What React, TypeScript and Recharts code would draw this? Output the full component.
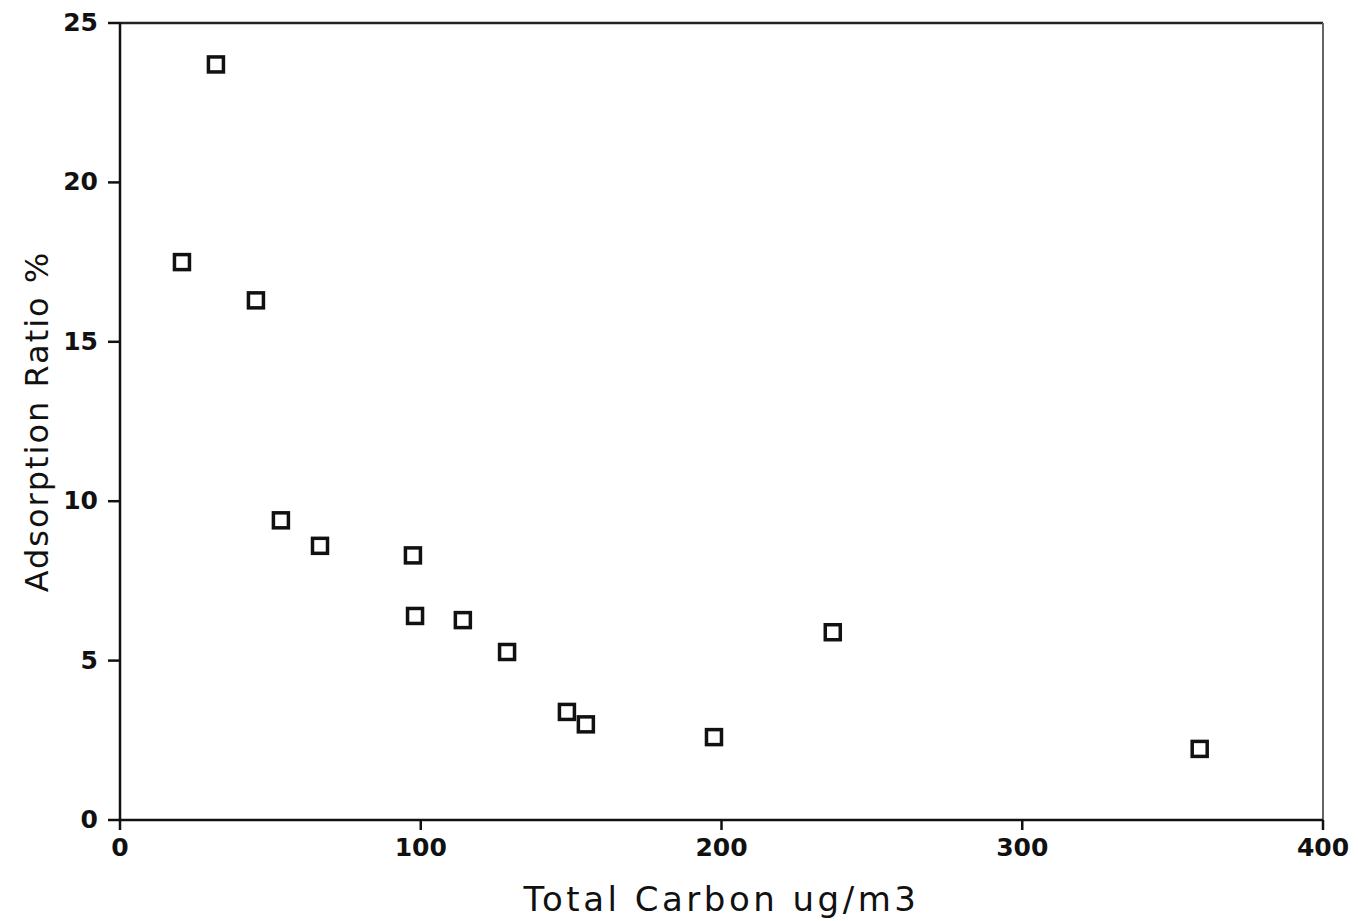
import { ScatterChart, Scatter, XAxis, YAxis, ReferenceLine, Label } from "recharts";

const totalCarbon = [20.6, 31.9, 45.2, 53.5, 66.5, 97.4, 98.1, 114, 128.7, 148.6, 154.9, 197.5, 237, 359];
const adsorptionRatio = [17.5, 23.7, 16.3, 9.4, 8.6, 8.3, 6.4, 6.27, 5.27, 3.39, 3.0, 2.6, 5.89, 2.23];
const xTicks = [0, 100, 200, 300, 400];
const yTicks = [0, 5, 10, 15, 20, 25];

const points = totalCarbon.map((x, i) => ({ x, y: adsorptionRatio[i] }));

const FONT = '"DejaVu Sans", "Liberation Sans", Arial, sans-serif';

function SquareMarker(props: any) {
  const { cx, cy } = props;
  const s = 15;
  return <rect x={cx - s / 2} y={cy - s / 2} width={s} height={s} fill="#fff" stroke="#111" strokeWidth={3.5} />;
}

function XTick({ x, y, payload }: any) {
  return (
    <text x={x} y={y + 26} textAnchor="middle" fill="#111" fontSize={25} fontWeight={700} fontFamily={FONT}>
      {payload.value}
    </text>
  );
}

function YTick({ x, y, payload }: any) {
  return (
    <text x={x} y={y + 8} textAnchor="end" fill="#111" fontSize={25} fontWeight={700} fontFamily={FONT}>
      {payload.value}
    </text>
  );
}

export default function App() {
  return (
    <div style={{ background: "#fff", width: 1350, height: 910 }}>
      <ScatterChart width={1350} height={910} margin={{ top: 15, right: 35, left: 0, bottom: 0 }}>
        <XAxis
          type="number"
          dataKey="x"
          domain={[0, 400]}
          ticks={xTicks}
          height={98}
          stroke="#111"
          strokeWidth={2.5}
          tickSize={10}
          tickMargin={0}
          tick={<XTick />}
        >
          <Label
            value="Total Carbon ug/m3"
            position="center"
            dy={30}
            style={{ fill: "#111", fontSize: 34, fontFamily: FONT, letterSpacing: 3.5 }}
          />
        </XAxis>
        <YAxis
          type="number"
          dataKey="y"
          domain={[0, 25]}
          ticks={yTicks}
          width={112}
          stroke="#111"
          strokeWidth={2.5}
          tickSize={12}
          tickMargin={10}
          tick={<YTick />}
        >
          <Label
            value="Adsorption Ratio %"
            position="center"
            angle={-90}
            dx={-27}
            style={{ fill: "#111", fontSize: 32, fontFamily: FONT, textAnchor: "middle", letterSpacing: 2 }}
          />
        </YAxis>
        <ReferenceLine y={25} stroke="#222" strokeWidth={2.5} ifOverflow="extendDomain" />
        <ReferenceLine x={400} stroke="#666" strokeWidth={2} ifOverflow="extendDomain" />
        <Scatter data={points} shape={SquareMarker} isAnimationActive={false} />
      </ScatterChart>
    </div>
  );
}
